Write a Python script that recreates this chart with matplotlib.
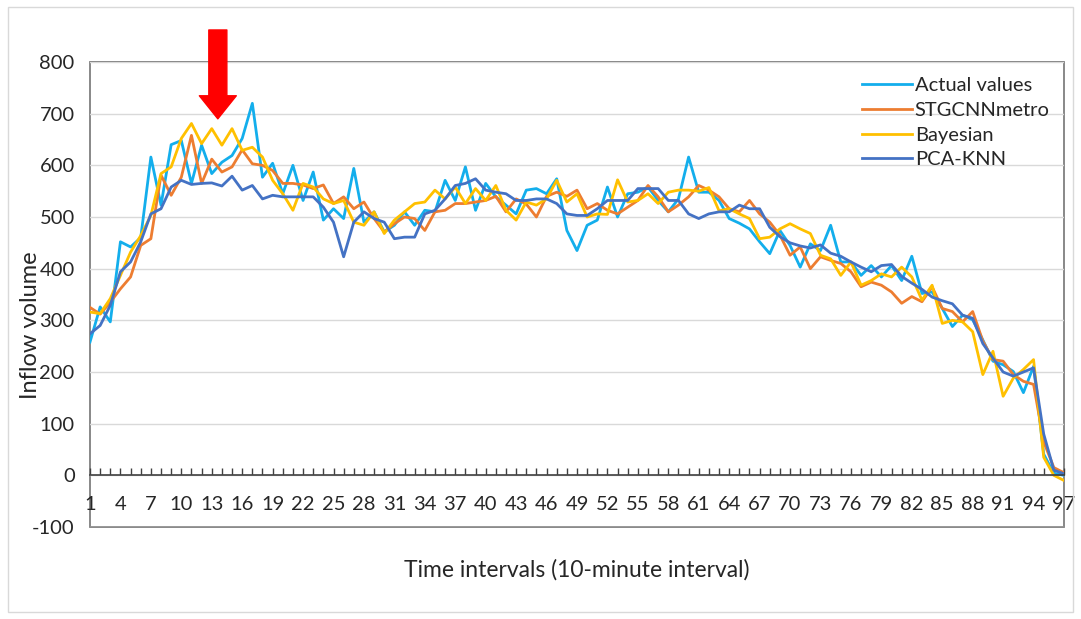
import matplotlib
matplotlib.use("Agg")
import matplotlib.pyplot as plt
from matplotlib.patches import Rectangle

plt.rcParams['font.family'] = ['Lato', 'DejaVu Sans']
plt.rcParams['axes.unicode_minus'] = False

# 10-minute intervals 1..97
intervals = list(range(1, 98))

actual = [258, 326, 297, 452, 442, 460, 616, 523, 640, 648,
          565, 639, 584, 606, 619, 652, 720, 577, 604, 545,
          600, 532, 587, 494, 516, 497, 594, 490, 510, 471,
          484, 510, 484, 513, 510, 571, 532, 597, 513, 565,
          539, 523, 506, 552, 555, 545, 574, 474, 435, 484,
          494, 558, 500, 545, 548, 558, 532, 510, 535, 616,
          548, 548, 532, 497, 488, 477, 452, 429, 474, 445,
          403, 448, 435, 484, 413, 413, 387, 406, 384, 406,
          377, 424, 352, 355, 323, 288, 310, 301, 262, 221,
          214, 201, 160, 211, 41, 4, 0]

stgcnn = [325, 312, 335, 361, 384, 445, 458, 581, 542, 577,
          658, 565, 612, 587, 597, 630, 603, 600, 590, 565,
          565, 562, 555, 562, 526, 539, 516, 529, 497, 471,
          487, 500, 497, 474, 510, 513, 526, 526, 529, 532,
          540, 510, 535, 525, 500, 540, 548, 540, 552, 516,
          526, 513, 506, 519, 532, 561, 539, 510, 523, 539,
          561, 552, 539, 516, 510, 532, 506, 490, 465, 426,
          442, 400, 423, 416, 410, 394, 365, 374, 368, 355,
          333, 346, 336, 365, 323, 317, 297, 317, 260, 224,
          221, 195, 182, 176, 65, 15, 5]

bayesian = [316, 313, 342, 387, 432, 464, 503, 584, 597, 652,
            681, 642, 671, 639, 671, 629, 635, 616, 571, 545,
            513, 565, 558, 535, 526, 532, 490, 484, 510, 468,
            494, 510, 526, 529, 552, 535, 558, 526, 555, 532,
            561, 513, 494, 529, 523, 535, 571, 529, 545, 500,
            506, 505, 572, 529, 532, 545, 526, 548, 552, 552,
            550, 557, 512, 516, 506, 497, 458, 461, 477, 487,
            477, 468, 426, 419, 387, 413, 368, 377, 390, 384,
            403, 384, 339, 368, 294, 300, 297, 278, 195, 240,
            153, 188, 205, 224, 35, 0, -10]

pca_knn = [274, 290, 329, 394, 413, 452, 506, 516, 558, 571,
           563, 565, 566, 560, 579, 552, 561, 535, 542, 539,
           539, 539, 539, 519, 490, 423, 490, 510, 497, 490,
           458, 461, 461, 506, 513, 535, 561, 565, 574, 552,
           548, 545, 532, 532, 535, 535, 526, 506, 503, 503,
           516, 532, 532, 532, 555, 555, 555, 532, 532, 506,
           497, 506, 510, 510, 523, 516, 516, 480, 462, 450,
           444, 440, 446, 430, 424, 413, 403, 394, 406, 408,
           385, 372, 360, 345, 338, 332, 310, 304, 255, 227,
           200, 192, 200, 208, 80, 10, 3]

W, H = 1081, 619
fig = plt.figure(figsize=(W / 100, H / 100), dpi=100)
ax = fig.add_axes([90 / W, 1 - 527 / H, (1064 - 90) / W, (527 - 62) / H])

ax.plot(intervals, actual, color='#13AEEC', lw=2.0, label='Actual values')
ax.plot(intervals, stgcnn, color='#ED7D31', lw=2.0, label='STGCNNmetro')
ax.plot(intervals, bayesian, color='#FFC000', lw=2.0, label='Bayesian')
ax.plot(intervals, pca_knn, color='#4472C4', lw=2.0, label='PCA-KNN')

ax.set_xlim(1, 97)
ax.set_ylim(-100, 800)
ax.set_yticks(range(-100, 801, 100))
ax.yaxis.grid(True, color='#D9D9D9', lw=1)
ax.set_axisbelow(True)

# plot area frame + category axis at y=0
for s in ['top', 'right', 'left']:
    ax.spines[s].set_visible(False)
ax.patch.set_edgecolor('#7F7F7F')
ax.patch.set_linewidth(1.3)
ax.spines['bottom'].set_position(('data', 0))
ax.spines['bottom'].set_color('#404040')
ax.spines['bottom'].set_linewidth(1.2)

ax.set_xticks(range(1, 98, 3))
ax.set_xticks(range(1, 98), minor=True)
ax.tick_params(axis='x', which='both', direction='in', length=5,
               color='#404040', width=1)
ax.tick_params(axis='x', which='major', pad=15, labelsize=14.5,
               labelcolor='#262626')
ax.tick_params(axis='y', length=0, pad=11, labelsize=14.5,
               labelcolor='#262626')

leg = ax.legend(loc='upper left', bbox_to_anchor=(862 / W, 1 - 77 / H),
                bbox_transform=fig.transFigure, frameon=False,
                fontsize=14.5, handlelength=2.5, handletextpad=0.12,
                labelspacing=0.38, borderpad=0, borderaxespad=0)
for t in leg.get_texts():
    t.set_color('#262626')

# red arrow marking the morning peak
ax.annotate('', xy=(13.6, 690), xytext=(13.6, 862),
            arrowprops=dict(arrowstyle='simple,head_length=1.66,head_width=2.66,tail_width=1.3',
                            color='#FF0000', mutation_scale=10,
                            shrinkA=0, shrinkB=0),
            annotation_clip=False)

fig.text(577 / W, 1 - 570 / H, 'Time intervals (10-minute interval)',
         ha='center', va='center', fontsize=16.5, color='#262626')
fig.text(31 / W, 1 - 325 / H, 'Inflow volume', rotation=90,
         ha='center', va='center', fontsize=17, color='#262626')

fig.patches.append(Rectangle((8 / W, 7 / H), (1073 - 8) / W, (612 - 7) / H,
                             transform=fig.transFigure, fill=False,
                             edgecolor='#D9D9D9', lw=1))

fig.savefig('out.png', dpi=100)
